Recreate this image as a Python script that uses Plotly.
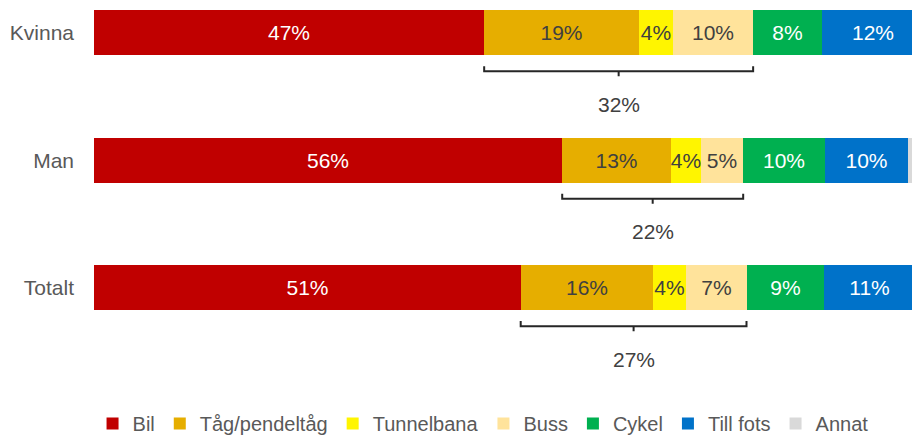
import plotly.graph_objects as go

# Andel resor per färdmedel (procent)
categories = ["Kvinna", "Man", "Totalt"]
modes = ["Bil", "Tåg/pendeltåg", "Tunnelbana", "Buss", "Cykel", "Till fots", "Annat"]

bil = [47.0, 56.4, 51.4]
tag = [18.6, 13.1, 15.9]
tunnelbana = [4.2, 3.6, 4.0]
buss = [9.6, 5.1, 7.3]
cykel = [8.3, 9.9, 9.3]
till_fots = [12.3, 9.9, 11.0]
annat = [0.0, 2.0, 1.1]

series = [bil, tag, tunnelbana, buss, cykel, till_fots, annat]
colors = ["#C00000", "#E6AE00", "#FFF500", "#FFE39B", "#00B050", "#0072C9", "#D9D9D9"]
text_colors = ["white", "#404040", "#404040", "#404040", "white", "white", "#404040"]

FONT = "Liberation Sans, Arial, sans-serif"
ypos = list(range(len(categories)))

fig = go.Figure()
for name, vals, col, tcol in zip(modes, series, colors, text_colors):
    fig.add_trace(
        go.Bar(
            y=ypos,
            x=vals,
            name=name,
            orientation="h",
            width=0.353,
            marker=dict(color=col, line=dict(width=0)),
            text=[f"{v:.0f}%" for v in vals] if name != "Annat" else None,
            textposition="inside",
            insidetextanchor="middle",
            textangle=0,
            constraintext="none",
            textfont=dict(color=tcol, size=21, family=FONT),
            hoverinfo="x+name",
        )
    )

# Klammer under kollektivtrafik (tåg + tunnelbana + buss)
TOP, LINE, TICK, LABEL = 0.26, 0.30, 0.34, 0.56
for i in ypos:
    x0 = bil[i]
    x1 = bil[i] + tag[i] + tunnelbana[i] + buss[i]
    xm = (x0 + x1) / 2
    y = ypos[i]
    fig.add_shape(
        type="path",
        xref="x",
        yref="y",
        path=(
            f"M {x0},{y + TOP} L {x0},{y + LINE} L {x1},{y + LINE} L {x1},{y + TOP} "
            f"M {xm},{y + LINE} L {xm},{y + TICK}"
        ),
        line=dict(color="#262626", width=2),
    )
    fig.add_annotation(
        x=xm,
        y=y + LABEL,
        text=f"{tag[i] + tunnelbana[i] + buss[i]:.0f}%",
        showarrow=False,
        font=dict(color="#404040", size=21, family=FONT),
    )

fig.update_layout(
    barmode="stack",
    width=912,
    height=435,
    margin=dict(l=86, r=0, t=0, b=51),
    paper_bgcolor="white",
    plot_bgcolor="white",
    font=dict(family=FONT, color="#595959", size=20),
    bargap=0,
    xaxis=dict(range=[0, 99.5], visible=False, fixedrange=True),
    yaxis=dict(
        range=[2.816, -0.196],
        tickvals=ypos,
        ticktext=categories,
        showgrid=False,
        zeroline=False,
        showline=False,
        ticks="",
        ticklabelstandoff=19,
        tickfont=dict(size=21, color="#595959", family=FONT),
        fixedrange=True,
    ),
    legend=dict(
        orientation="h",
        x=0.471,
        xanchor="center",
        yref="container",
        y=-0.018,
        yanchor="bottom",
        font=dict(size=20, color="#595959", family=FONT),
        traceorder="normal",
        itemclick=False,
    ),
    showlegend=True,
)

fig.write_html("out.html")
